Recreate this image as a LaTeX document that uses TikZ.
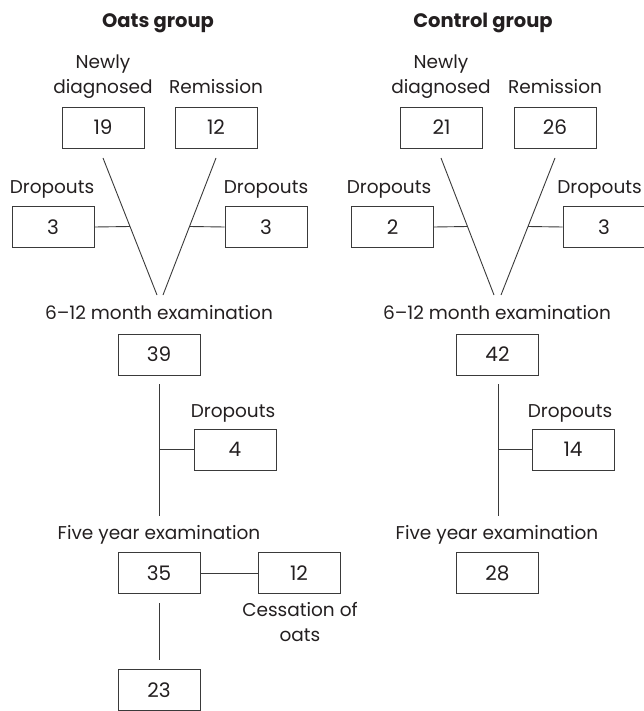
\documentclass[tikz,border=0pt]{standalone}
\usepackage{fontspec}
\setmainfont{Poppins}
\usetikzlibrary{calc}
\definecolor{ink}{HTML}{231F20}
\definecolor{linec}{HTML}{3A3A3A}
\tikzset{
  numbox/.style={draw=linec, line width=0.9pt, minimum width=82pt, minimum height=41pt, inner sep=0pt, font=\fontsize{20}{24}\selectfont, text=ink},
  lbl/.style={font=\fontsize{18.5}{25}\selectfont, text=ink, inner sep=0pt},
  ttl/.style={font=\fontsize{19.5}{22}\selectfont\bfseries, text=ink, inner sep=0pt},
  conn/.style={draw=linec, line width=0.9pt}
}
\begin{document}
\begin{tikzpicture}[x=1pt,y=-1pt]
\useasboundingbox (0,0) rectangle (643,711);
% ---------- Oats group ----------
\node[ttl, anchor=base] (tO) at (158,28) {Oats group};
\node[lbl, align=center, anchor=south] (lnO) at (103,99) {Newly\\diagnosed};
\node[lbl, anchor=base] (lrO) at (216,94) {Remission};
\node[numbox] (nO) at (103,127.5) {19};
\node[numbox] (rO) at (216,127.5) {12};
\node[lbl, anchor=base] (ldO1) at (52,194) {Dropouts};
\node[numbox] (dO1) at (53,227) {3};
\node[lbl, anchor=base] (ldO2) at (266,194) {Dropouts};
\node[numbox] (dO2) at (266,227) {3};
\coordinate (sO1) at (103,158);
\coordinate (sO2) at (216,158);
\coordinate (eO1) at (157,295);
\coordinate (eO2) at (163,295);
\draw[conn] (sO1) -- (eO1);
\draw[conn] (sO2) -- (eO2);
\coordinate (mO1) at ($(sO1)!0.5!(eO1)$);
\coordinate (mO2) at ($(sO2)!0.5!(eO2)$);
\draw[conn] (dO1.east) -- (mO1);
\draw[conn] (dO2.west) -- (mO2);
\node[lbl, anchor=base] (l6O) at (159,319) {6–12 month examination};
\node[numbox] (n39) at (159,354.5) {39};
\node[lbl, anchor=base] (ldO3) at (233,417) {Dropouts};
\node[numbox] (n4) at (235,449.5) {4};
\coordinate (vO1) at (159,384);
\coordinate (vO2) at (159,516);
\coordinate (jO) at (159,449.5);
\draw[conn] (vO1) -- (vO2);
\draw[conn] (n4.west) -- (jO);
\node[lbl, anchor=base] (l5O) at (159,539) {Five year examination};
\node[numbox] (n35) at (159,573) {35};
\node[numbox] (n12c) at (299,573) {12};
\draw[conn] (n35.east) -- (n12c.west);
\node[lbl, align=center, anchor=north] (lcess) at (300,602) {Cessation of\\oats};
\coordinate (wO1) at (159,603);
\coordinate (wO2) at (159,660);
\draw[conn] (wO1) -- (wO2);
\node[numbox] (n23) at (159,690) {23};
% ---------- Control group ----------
\node[ttl, anchor=base] (tC) at (483,28) {Control group};
\node[lbl, align=center, anchor=south] (lnC) at (441,99) {Newly\\diagnosed};
\node[lbl, anchor=base] (lrC) at (555,94) {Remission};
\node[numbox] (nC) at (441.5,127.5) {21};
\node[numbox] (rC) at (555,127.5) {26};
\node[lbl, anchor=base] (ldC1) at (389,194) {Dropouts};
\node[lbl, anchor=base east] (ldC2) at (642,194) {Dropouts};
\node[numbox] (dC1) at (392.5,227) {2};
\node[numbox] (dC2) at (604,227) {3};
\coordinate (sC1) at (441,158);
\coordinate (sC2) at (555,158);
\coordinate (eC1) at (494,295);
\coordinate (eC2) at (501,295);
\draw[conn] (sC1) -- (eC1);
\draw[conn] (sC2) -- (eC2);
\coordinate (mC1) at ($(sC1)!0.5!(eC1)$);
\coordinate (mC2) at ($(sC2)!0.5!(eC2)$);
\draw[conn] (dC1.east) -- (mC1);
\draw[conn] (dC2.west) -- (mC2);
\node[lbl, anchor=base] (l6C) at (497,319) {6–12 month examination};
\node[numbox] (n42) at (497.5,354.5) {42};
\node[lbl, anchor=base] (ldC3) at (570,417) {Dropouts};
\node[numbox] (n14) at (573,449.5) {14};
\coordinate (vC1) at (498,384);
\coordinate (vC2) at (498,516);
\coordinate (jC) at (498,449.5);
\draw[conn] (vC1) -- (vC2);
\draw[conn] (n14.west) -- (jC);
\node[lbl, anchor=base] (l5C) at (497,539) {Five year examination};
\node[numbox] (n28) at (497.5,573) {28};
\end{tikzpicture}
\end{document}
